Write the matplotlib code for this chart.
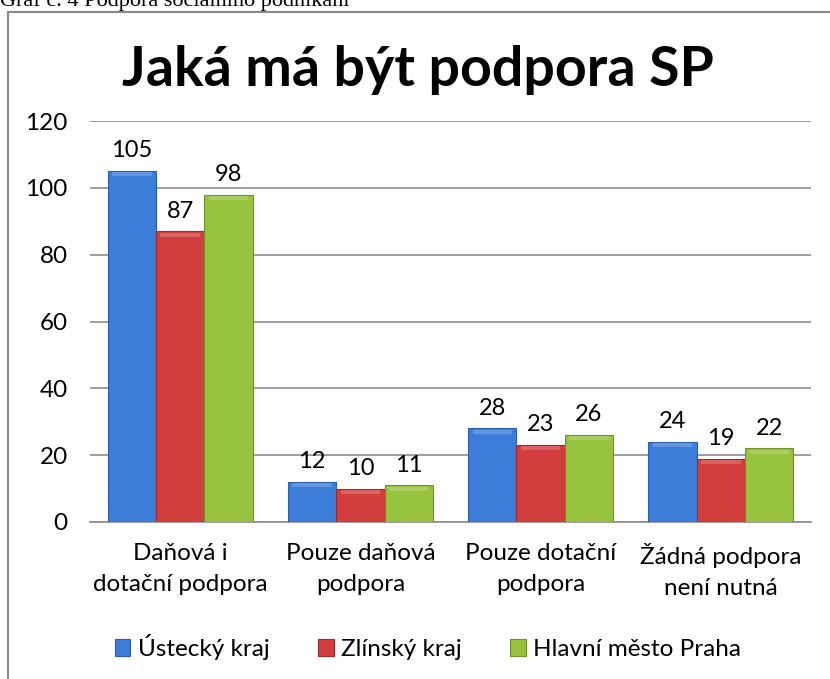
import matplotlib.pyplot as plt
import numpy as np
from matplotlib.patches import Rectangle

# data
categories = ['Daňová i\ndotační podpora', 'Pouze daňová\npodpora',
              'Pouze dotační\npodpora', 'Žádná podpora\nnení nutná']
series_names = ['Ústecký kraj', 'Zlínský kraj', 'Hlavní město Praha']
ustecky = [105, 12, 28, 24]
zlinsky = [87, 10, 23, 19]
praha = [98, 11, 26, 22]
yticks = [0, 20, 40, 60, 80, 100, 120]

colors = ['#3B7DD8', '#D23E3E', '#97C23E']
edges = ['#2A5EA8', '#A02A2A', '#6E9228']

plt.rcParams['font.family'] = ['Lato', 'DejaVu Sans']

fig = plt.figure(figsize=(8.3, 6.79), dpi=100)
W, H = 830, 679
ax = fig.add_axes([90 / W, 1 - 522 / H, 721 / W, 401 / H])

# frame around the chart, cut off by the picture edges
fig.patches.append(Rectangle((8 / W, -0.1), 1.2, 1 - 12 / H + 0.1,
                             transform=fig.transFigure, fill=False,
                             edgecolor='#8a8a8a', linewidth=1.5))
# caption from the document, only its lower part is visible
fig.text(0.0, 1 - 6 / H, 'Graf č. 4 Podpora sociálního podnikání',
         family='Liberation Serif', fontsize=16, va='baseline', ha='left')

x = np.arange(len(categories))
w = 0.268
all_series = [ustecky, zlinsky, praha]
for i, vals in enumerate(all_series):
    pos = x + (i - 1) * w
    bars = ax.bar(pos, vals, w, color=colors[i], edgecolor=edges[i],
                  linewidth=0.8, label=series_names[i], zorder=3)
    # lighter bevel strip on top of each bar
    ax.bar(pos, [1.2] * len(vals), w * 0.82, bottom=np.array(vals) - 1.6,
           color='white', alpha=0.2, linewidth=0, zorder=4)
    for b, v in zip(bars, vals):
        ax.annotate(str(v), (b.get_x() + b.get_width() / 2, v),
                    xytext=(0, 7), textcoords='offset points',
                    ha='center', va='bottom', fontsize=17)

ax.set_xlim(-0.5, len(categories) - 0.5)
ax.set_ylim(0, 120)
ax.set_yticks(yticks)
ax.set_xticks(x)
ax.set_xticklabels(categories, fontsize=17.5, linespacing=1.6)
ax.tick_params(axis='y', length=0, pad=16, labelsize=17.5)
ax.tick_params(axis='x', length=0, pad=15)
ax.grid(axis='y', color='#8c8c8c', linewidth=1.2, zorder=0)
for s in ['top', 'right', 'left']:
    ax.spines[s].set_visible(False)
ax.spines['bottom'].set_color('#8c8c8c')
ax.spines['bottom'].set_linewidth(1.2)

fig.text(418 / W, 1 - 70 / H, 'Jaká má být podpora SP', ha='center',
         va='center', fontsize=40, fontweight='bold')

leg = fig.legend(loc='center', bbox_to_anchor=(428 / W, 1 - 647 / H),
                 ncol=3, frameon=False, fontsize=17.5, handlelength=0.65,
                 handleheight=0.65, handletextpad=0.3, columnspacing=2.0)

fig.savefig('out.png', dpi=100)
